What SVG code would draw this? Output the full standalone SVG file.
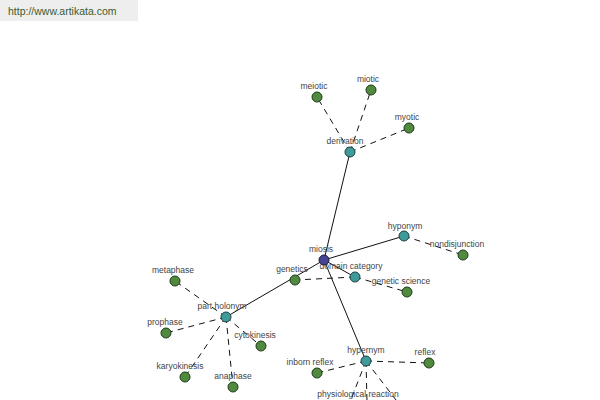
<svg xmlns="http://www.w3.org/2000/svg" width="600" height="400" viewBox="0 0 600 400">
<style>
.lbl{font-family:"Liberation Sans",Arial,sans-serif;font-size:8.5px;fill:#444;text-anchor:middle}
.s{stroke:#111;stroke-width:1;fill:none}
.d{stroke:#111;stroke-width:1;fill:none;stroke-dasharray:6,5}
.g{fill:#4f8a3f;stroke:#1e3a1a;stroke-width:1}
.t{fill:#3f9a9a;stroke:#1e3f44;stroke-width:1}
.m{fill:#45458f;stroke:#1c1c44;stroke-width:1}
</style>
<rect width="600" height="400" fill="#fff"/>
<rect x="0" y="0" width="138" height="21" fill="#eeeeee"/>
<text x="8" y="15" font-family="Liberation Sans,Arial,sans-serif" font-size="10.5" fill="#3d5a2e">http://www.artikata.com</text>
<g id="connectors">
<line class="s" x1="324" y1="260" x2="350" y2="152"/>
<line class="s" x1="324" y1="260" x2="404" y2="236"/>
<line class="s" x1="324" y1="260" x2="366" y2="361"/>
<line class="s" x1="324" y1="260" x2="226" y2="317"/>
<line class="s" x1="324" y1="260" x2="355" y2="277"/>
<line class="d" x1="350" y1="152" x2="317" y2="97"/>
<line class="d" x1="350" y1="152" x2="371" y2="90"/>
<line class="d" x1="350" y1="152" x2="409" y2="128"/>
<line class="d" x1="404" y1="236" x2="463" y2="255"/>
<line class="d" x1="355" y1="277" x2="295" y2="280"/>
<line class="d" x1="355" y1="277" x2="407" y2="292"/>
<line class="d" x1="226" y1="317" x2="175" y2="281"/>
<line class="d" x1="226" y1="317" x2="166" y2="333"/>
<line class="d" x1="226" y1="317" x2="261" y2="346"/>
<line class="d" x1="226" y1="317" x2="185" y2="377"/>
<line class="d" x1="226" y1="317" x2="233" y2="387"/>
<line class="d" x1="366" y1="361" x2="317" y2="373"/>
<line class="d" x1="366" y1="361" x2="429" y2="363"/>
<line class="d" x1="366" y1="361" x2="350" y2="402"/>
<line class="d" x1="366" y1="361" x2="367" y2="402"/>
<line class="d" x1="366" y1="361" x2="396" y2="400"/>
</g>
<g id="n-derivation"><circle class="t" cx="350" cy="152" r="5"/><text class="lbl" x="345" y="144">derivation</text></g>
<g id="n-meiotic"><circle class="g" cx="317" cy="97" r="5"/><text class="lbl" x="314" y="89">meiotic</text></g>
<g id="n-miotic"><circle class="g" cx="371" cy="90" r="5"/><text class="lbl" x="368" y="82">miotic</text></g>
<g id="n-myotic"><circle class="g" cx="409" cy="128" r="5"/><text class="lbl" x="407" y="120">myotic</text></g>
<g id="n-hyponym"><circle class="t" cx="404" cy="236" r="5"/><text class="lbl" x="405" y="229">hyponym</text></g>
<g id="n-nondisjunction"><circle class="g" cx="463" cy="255" r="5"/><text class="lbl" x="457" y="247">nondisjunction</text></g>
<g id="n-domain-category"><circle class="t" cx="355" cy="277" r="5"/><text class="lbl" x="351" y="269">domain category</text></g>
<g id="n-genetic-science"><circle class="g" cx="407" cy="292" r="5"/><text class="lbl" x="401" y="284">genetic science</text></g>
<g id="n-genetics"><circle class="g" cx="295" cy="280" r="5"/><text class="lbl" x="292" y="272">genetics</text></g>
<g id="n-part-holonym"><circle class="t" cx="226" cy="317" r="5"/><text class="lbl" x="222" y="309">part holonym</text></g>
<g id="n-metaphase"><circle class="g" cx="175" cy="281" r="5"/><text class="lbl" x="173" y="273">metaphase</text></g>
<g id="n-prophase"><circle class="g" cx="166" cy="333" r="5"/><text class="lbl" x="165" y="325">prophase</text></g>
<g id="n-cytokinesis"><circle class="g" cx="261" cy="346" r="5"/><text class="lbl" x="255" y="338">cytokinesis</text></g>
<g id="n-karyokinesis"><circle class="g" cx="185" cy="377" r="5"/><text class="lbl" x="180" y="369">karyokinesis</text></g>
<g id="n-anaphase"><circle class="g" cx="233" cy="387" r="5"/><text class="lbl" x="233" y="379">anaphase</text></g>
<g id="n-hypernym"><circle class="t" cx="366" cy="361" r="5"/><text class="lbl" x="366" y="353">hypernym</text></g>
<g id="n-inborn-reflex"><circle class="g" cx="317" cy="373" r="5"/><text class="lbl" x="310" y="365">inborn reflex</text></g>
<g id="n-reflex"><circle class="g" cx="429" cy="363" r="5"/><text class="lbl" x="425" y="355">reflex</text></g>
<g id="n-physiological-reaction"><text class="lbl" x="358" y="397">physiological reaction</text></g>
<g id="n-miosis"><circle class="m" cx="324" cy="260" r="5"/><text class="lbl" x="321" y="252">miosis</text></g>
</svg>
